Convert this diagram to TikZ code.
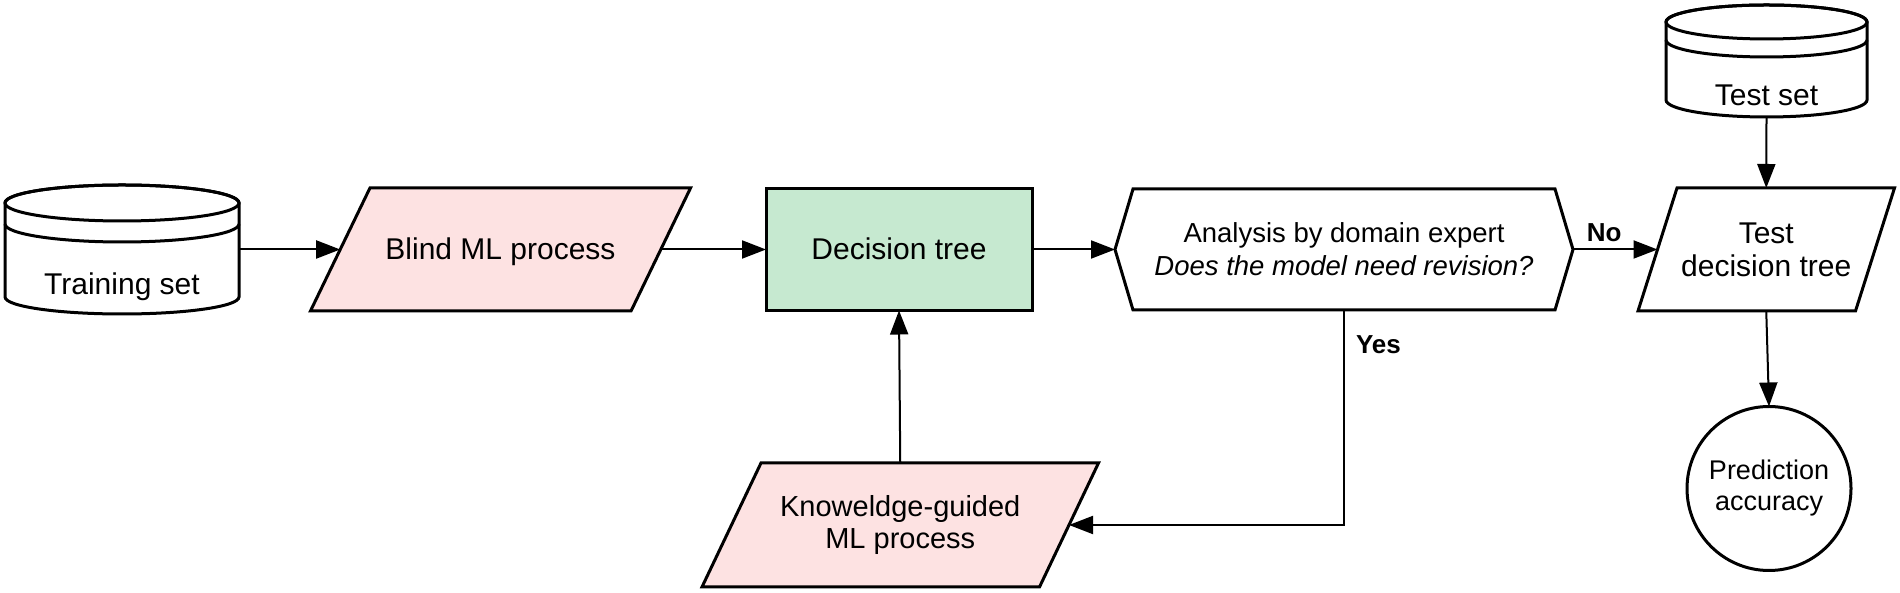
\documentclass[tikz,border=0pt]{standalone}
\usepackage{fontspec}
\setmainfont{Liberation Sans}
\usetikzlibrary{arrows.meta,calc,backgrounds}
\definecolor{pinkfill}{RGB}{253,226,226}
\definecolor{greenfill}{RGB}{198,233,208}
\newcommand\mainfs{\fontsize{30}{33}\selectfont}
\newcommand\anafs{\fontsize{27.5}{33}\selectfont}
\newcommand\kgfs{\fontsize{29}{32}\selectfont}
\newcommand\lblfs{\fontsize{26}{30}\selectfont\bfseries}
\begin{document}
\begin{tikzpicture}[x=1pt,y=1pt,
  base/.style={inner sep=0pt, outer sep=0pt, align=center, font=\mainfs},
  border/.style={line width=3pt, line join=miter, draw=black},
  conn/.style={line width=2pt, -{Triangle[length=24pt,width=18pt]}},
  lbl/.style={inner sep=0pt, outer sep=0pt, font=\lblfs},
  oneline/.style={text height=21pt, text depth=0pt},
]
\useasboundingbox (0,0) rectangle (1900,593);

% ---- nodes ----
\node[base, minimum width=234pt, minimum height=129pt] (train) at (122,343.5) {};
\node[base, anchor=base] (traintxt) at (122,298) {Training set};
\node[base, oneline, minimum width=320.6pt, minimum height=123pt] (blind) at (500.5,343.5) {Blind ML process};
\node[base, oneline, border, fill=greenfill, minimum width=266pt, minimum height=122pt] (dt) at (899,343.5) {Decision tree};
\node[base, font=\anafs, minimum width=458pt, minimum height=121pt] (ana) at (1344,343.5) {Analysis by domain expert\\\textit{Does the model need revision?}};
\node[base, minimum width=201pt, minimum height=112pt] (testset) at (1766.5,532) {};
\node[base, anchor=base] (testsettxt) at (1766.5,487) {Test set};
\node[base, minimum width=217.5pt, minimum height=123pt] (testdt) at (1766.25,343.5) {Test\\decision tree};
\node[base, border, circle, minimum size=164pt, font=\fontsize{27}{31}\selectfont] (acc) at (1769,104.5) {Prediction\\accuracy};
\node[base, font=\kgfs, minimum width=337.5pt, minimum height=124pt] (kg) at (900.25,68) {Knoweldge-guided\\ML process};

% ---- shapes behind the texts ----
\begin{scope}[on background layer]
  % training set cylinder
  \draw[border, fill=white] ($(train.north west)+(0,-18)$) -- ($(train.south west)+(0,17)$)
     arc[start angle=180, end angle=360, x radius=117, y radius=17]
     -- ($(train.north east)+(0,-18)$)
     arc[start angle=0, end angle=180, x radius=117, y radius=18] -- cycle;
  \draw[border] ($(train.north)+(0,-18)$) ellipse[x radius=117, y radius=18];
  \draw[border] ($(train.north west)+(0,-39)$) arc[start angle=180, end angle=360, x radius=117, y radius=18];
  % test set cylinder
  \draw[border, fill=white] ($(testset.north west)+(0,-17)$) -- ($(testset.south west)+(0,17)$)
     arc[start angle=180, end angle=360, x radius=100.5, y radius=17]
     -- ($(testset.north east)+(0,-17)$)
     arc[start angle=0, end angle=180, x radius=100.5, y radius=17] -- cycle;
  \draw[border] ($(testset.north)+(0,-17)$) ellipse[x radius=100.5, y radius=17];
  \draw[border] ($(testset.north west)+(0,-35)$) arc[start angle=180, end angle=360, x radius=100.5, y radius=17];
  % parallelograms
  \draw[border, fill=pinkfill] ($(blind.north west)+(29.75,0)$) -- ($(blind.north east)+(29.75,0)$)
     -- ($(blind.south east)+(-29.75,0)$) -- ($(blind.south west)+(-29.75,0)$) -- cycle;
  \draw[border, fill=pinkfill] ($(kg.north west)+(29.5,0)$) -- ($(kg.north east)+(29.5,0)$)
     -- ($(kg.south east)+(-29.5,0)$) -- ($(kg.south west)+(-29.5,0)$) -- cycle;
  \draw[border, fill=white] ($(testdt.north west)+(19.5,0)$) -- ($(testdt.north east)+(19.5,0)$)
     -- ($(testdt.south east)+(-19.5,0)$) -- ($(testdt.south west)+(-19.5,0)$) -- cycle;
  % analysis (double pointed) shape
  \draw[border, fill=white] (ana.west) -- ($(ana.north west)+(18,0)$) -- ($(ana.north east)+(-18,0)$)
     -- (ana.east) -- ($(ana.south east)+(-18,0)$) -- ($(ana.south west)+(18,0)$) -- cycle;
\end{scope}

% ---- connectors ----
\draw[conn] (train.east) -- (blind.west);
\draw[conn] (blind.east) -- (dt.west);
\draw[conn] (dt.east) -- (ana.west);
\draw[conn] (ana.east) -- node[lbl, above=8pt, pos=0.37] (nolbl) {No} (testdt.west);
\draw[conn] (testset.south) -- (testdt.north);
\draw[conn] (testdt.south) -- (acc.north);
\draw[conn] (kg.north) -- (dt.south);
\draw[conn] (ana.south) |- node[lbl, right=12pt, pos=0.08] (yeslbl) {Yes} (kg.east);
\end{tikzpicture}
\end{document}
